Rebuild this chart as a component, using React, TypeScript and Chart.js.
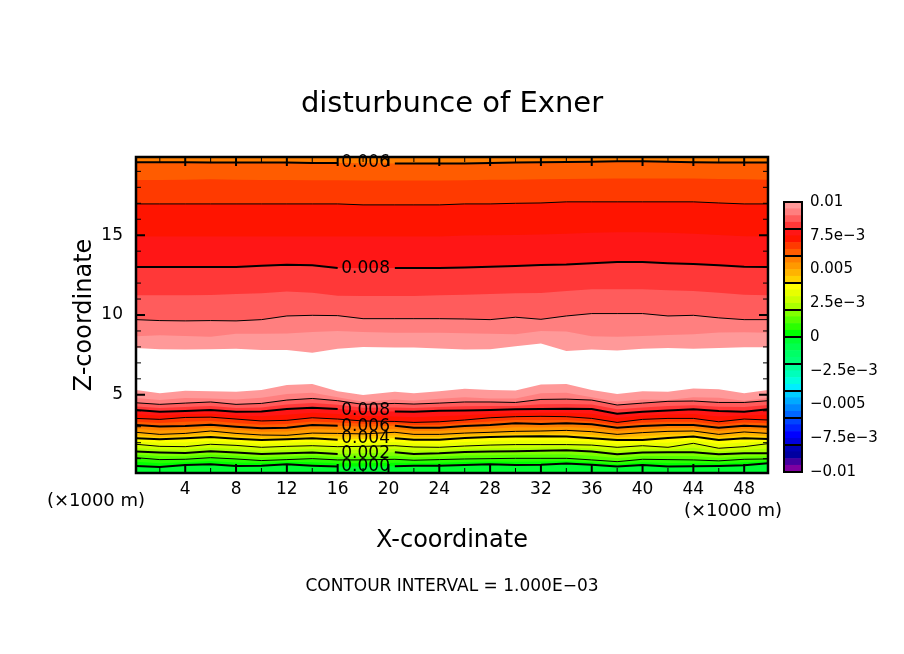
import { useEffect, useRef } from "react"
import { Chart, registerables } from "chart.js"

Chart.register(...registerables)

const FONT = "'DejaVu Sans'"

const stations = [0.125, 2, 4, 6, 8, 10, 12, 14, 16, 18, 20.5, 22, 24, 26, 28, 30, 32, 34, 36, 38, 40, 42, 44, 46, 48, 49.875]

// upper stack, above the white hole
const up0060 = [19.57, 19.57, 19.57, 19.55, 19.55, 19.55, 19.55, 19.52, 19.52, 19.52, 19.5, 19.5, 19.5, 19.5, 19.52, 19.55, 19.57, 19.59, 19.61, 19.63, 19.63, 19.61, 19.57, 19.55, 19.55, 19.55]
const up0065 = [18.46, 18.46, 18.48, 18.5, 18.48, 18.46, 18.46, 18.44, 18.44, 18.42, 18.42, 18.42, 18.42, 18.44, 18.48, 18.48, 18.5, 18.52, 18.54, 18.56, 18.56, 18.56, 18.56, 18.52, 18.5, 18.48]
const up0070 = [16.96, 16.96, 16.96, 16.96, 16.96, 16.96, 16.96, 16.96, 16.96, 16.9, 16.9, 16.9, 16.9, 16.96, 16.96, 17.0, 17.02, 17.09, 17.09, 17.09, 17.09, 17.09, 17.09, 17.02, 16.96, 16.96]
const up0075 = [14.92, 14.92, 14.92, 14.92, 14.92, 14.92, 14.92, 14.92, 14.92, 14.92, 14.92, 14.92, 14.92, 14.98, 15.0, 15.02, 15.05, 15.09, 15.15, 15.19, 15.19, 15.15, 15.09, 15.02, 14.94, 14.92]
const up0080 = [13.0, 13.0, 13.0, 13.0, 13.0, 13.09, 13.15, 13.11, 12.94, 12.94, 12.94, 12.94, 12.94, 12.98, 13.02, 13.07, 13.13, 13.17, 13.25, 13.32, 13.32, 13.25, 13.19, 13.11, 13.02, 13.0]
const up0085 = [11.23, 11.23, 11.23, 11.25, 11.32, 11.36, 11.48, 11.4, 11.21, 11.19, 11.19, 11.19, 11.23, 11.27, 11.32, 11.36, 11.38, 11.5, 11.61, 11.61, 11.61, 11.55, 11.5, 11.4, 11.27, 11.23]
const up0090 = [9.71, 9.65, 9.63, 9.65, 9.63, 9.71, 9.94, 9.98, 9.96, 9.77, 9.77, 9.77, 9.77, 9.75, 9.71, 9.86, 9.73, 9.94, 10.09, 10.09, 10.09, 9.94, 9.98, 9.82, 9.71, 9.71]
const up0095 = [8.67, 8.73, 8.69, 8.63, 8.82, 8.82, 8.84, 8.94, 9.0, 8.94, 8.88, 8.88, 8.88, 8.86, 8.82, 8.8, 9.0, 8.96, 8.67, 8.63, 8.69, 8.75, 8.8, 8.9, 8.92, 8.88]
const up0100 = [7.94, 7.86, 7.84, 7.86, 7.88, 7.8, 7.8, 7.63, 7.88, 8.0, 7.96, 7.96, 7.9, 7.84, 7.86, 8.04, 8.21, 7.75, 7.84, 7.77, 7.88, 7.94, 7.88, 7.94, 7.98, 7.98]

// lower stack, below the white hole
const lo0100 = [5.3, 5.09, 5.25, 5.23, 5.19, 5.3, 5.61, 5.67, 5.23, 4.98, 5.19, 5.09, 5.23, 5.38, 5.3, 5.27, 5.65, 5.67, 5.3, 5.05, 5.23, 5.19, 5.4, 5.34, 5.09, 5.3]
const lo0095 = [4.8, 4.67, 4.8, 4.77, 4.71, 4.82, 5.05, 5.13, 4.84, 4.57, 4.71, 4.63, 4.75, 4.84, 4.77, 4.77, 5.09, 5.13, 4.84, 4.57, 4.71, 4.67, 4.84, 4.82, 4.63, 4.8]
const lo0090 = [4.5, 4.4, 4.48, 4.55, 4.4, 4.46, 4.67, 4.77, 4.63, 4.4, 4.46, 4.42, 4.48, 4.55, 4.55, 4.52, 4.71, 4.73, 4.67, 4.36, 4.48, 4.59, 4.61, 4.52, 4.52, 4.63]
const lo0085 = [4.27, 4.17, 4.23, 4.3, 4.17, 4.21, 4.39, 4.48, 4.37, 4.19, 4.21, 4.18, 4.24, 4.29, 4.3, 4.3, 4.41, 4.43, 4.39, 4.09, 4.21, 4.3, 4.35, 4.25, 4.23, 4.36]
const lo0080 = [4.05, 3.94, 3.98, 4.05, 3.94, 3.96, 4.11, 4.19, 4.11, 3.98, 3.96, 3.94, 4.0, 4.02, 4.05, 4.09, 4.11, 4.13, 4.11, 3.82, 3.94, 4.02, 4.09, 3.98, 3.94, 4.09]
const lo0075 = [3.78, 3.7, 3.78, 3.82, 3.71, 3.66, 3.75, 3.87, 3.79, 3.67, 3.64, 3.6, 3.65, 3.72, 3.8, 3.86, 3.88, 3.88, 3.81, 3.54, 3.7, 3.77, 3.8, 3.64, 3.71, 3.75]
const lo0070 = [3.52, 3.46, 3.58, 3.6, 3.48, 3.36, 3.4, 3.56, 3.48, 3.36, 3.33, 3.27, 3.31, 3.42, 3.56, 3.63, 3.65, 3.63, 3.52, 3.27, 3.46, 3.52, 3.52, 3.31, 3.48, 3.42]
const lo0065 = [3.31, 3.24, 3.31, 3.36, 3.24, 3.13, 3.17, 3.33, 3.27, 3.18, 3.2, 3.1, 3.12, 3.23, 3.33, 3.42, 3.41, 3.42, 3.33, 3.1, 3.25, 3.31, 3.31, 3.12, 3.27, 3.21]
const lo0060 = [3.1, 3.02, 3.04, 3.13, 3.0, 2.9, 2.94, 3.1, 3.06, 3.0, 3.06, 2.94, 2.94, 3.04, 3.1, 3.21, 3.17, 3.21, 3.15, 2.94, 3.04, 3.1, 3.1, 2.94, 3.06, 3.0]
const lo0055 = [2.87, 2.77, 2.81, 2.93, 2.79, 2.69, 2.7, 2.85, 2.82, 2.77, 2.85, 2.73, 2.73, 2.82, 2.87, 2.96, 2.95, 2.99, 2.92, 2.73, 2.83, 2.9, 2.91, 2.73, 2.86, 2.79]
const lo0050 = [2.65, 2.52, 2.58, 2.73, 2.58, 2.48, 2.46, 2.6, 2.58, 2.55, 2.65, 2.52, 2.52, 2.6, 2.65, 2.71, 2.73, 2.77, 2.69, 2.52, 2.63, 2.71, 2.73, 2.52, 2.67, 2.58]
const lo0045 = [2.46, 2.36, 2.42, 2.54, 2.41, 2.32, 2.33, 2.43, 2.38, 2.39, 2.46, 2.35, 2.35, 2.44, 2.5, 2.54, 2.56, 2.57, 2.48, 2.34, 2.4, 2.5, 2.55, 2.34, 2.47, 2.4]
const lo0040 = [2.27, 2.21, 2.27, 2.35, 2.25, 2.17, 2.21, 2.27, 2.19, 2.23, 2.27, 2.19, 2.19, 2.29, 2.35, 2.38, 2.4, 2.38, 2.27, 2.17, 2.17, 2.29, 2.38, 2.17, 2.27, 2.23]
const lo0035 = [2.08, 1.99, 2.01, 2.12, 2.04, 1.94, 1.99, 2.04, 1.97, 2.0, 2.04, 1.96, 1.95, 2.04, 2.1, 2.13, 2.14, 2.13, 2.06, 1.94, 1.99, 2.0, 2.17, 1.91, 2.01, 2.08]
const lo0030 = [1.9, 1.77, 1.75, 1.9, 1.83, 1.71, 1.77, 1.81, 1.75, 1.77, 1.81, 1.73, 1.71, 1.79, 1.85, 1.88, 1.88, 1.88, 1.85, 1.71, 1.81, 1.71, 1.96, 1.65, 1.75, 1.94]
const lo0025 = [1.67, 1.57, 1.55, 1.68, 1.6, 1.5, 1.55, 1.6, 1.52, 1.55, 1.6, 1.51, 1.52, 1.6, 1.64, 1.67, 1.69, 1.7, 1.64, 1.49, 1.59, 1.55, 1.68, 1.46, 1.54, 1.63]
const lo0020 = [1.44, 1.38, 1.35, 1.46, 1.38, 1.29, 1.33, 1.38, 1.29, 1.33, 1.4, 1.29, 1.33, 1.42, 1.44, 1.46, 1.5, 1.52, 1.44, 1.27, 1.38, 1.4, 1.4, 1.27, 1.33, 1.33]
const lo0015 = [1.25, 1.16, 1.15, 1.26, 1.18, 1.08, 1.13, 1.19, 1.1, 1.12, 1.18, 1.09, 1.13, 1.2, 1.22, 1.24, 1.26, 1.27, 1.18, 1.04, 1.17, 1.17, 1.16, 1.06, 1.14, 1.15]
const lo0010 = [1.06, 0.94, 0.96, 1.06, 0.98, 0.88, 0.94, 1.0, 0.92, 0.92, 0.96, 0.9, 0.94, 0.98, 1.0, 1.02, 1.02, 1.02, 0.92, 0.81, 0.96, 0.94, 0.92, 0.86, 0.96, 0.98]
const lo0005 = [0.8, 0.71, 0.78, 0.85, 0.76, 0.72, 0.8, 0.78, 0.71, 0.71, 0.74, 0.73, 0.75, 0.79, 0.82, 0.81, 0.82, 0.85, 0.77, 0.65, 0.78, 0.72, 0.72, 0.7, 0.77, 0.84]
const lo0000 = [0.54, 0.48, 0.6, 0.65, 0.54, 0.56, 0.65, 0.56, 0.5, 0.5, 0.52, 0.56, 0.56, 0.6, 0.65, 0.6, 0.62, 0.69, 0.62, 0.5, 0.6, 0.5, 0.52, 0.54, 0.58, 0.71]

const xTicks = [2, 4, 6, 8, 10, 12, 14, 16, 18, 20, 22, 24, 26, 28, 30, 32, 34, 36, 38, 40, 42, 44, 46, 48]
const yTicks = [1, 2, 3, 4, 5, 6, 7, 8, 9, 10, 11, 12, 13, 14, 15, 16, 17, 18, 19]

// colour bar, bottom to top, one colour per 5e-4
const barColors = [
  "#7F00A0", "#4400A0", "#0000A0", "#0000B4",
  "#0000DC", "#0000FF", "#0022FF", "#0044FF",
  "#0066FF", "#0088FF", "#00AAFF", "#00CCFF",
  "#00EEFF", "#00FFDD", "#00FFBB", "#00FF99",
  "#00FF77", "#00FF66", "#00FF4D", "#00FF33",
  "#00FF00", "#2AFF00", "#55FF00", "#80FF00",
  "#AAFF00", "#CCFF00", "#E8FF00", "#FFFF00",
  "#FFD000", "#FFB300", "#FF9900", "#FF7F00",
  "#FF5C00", "#FF3A00", "#FF1400", "#FF1616",
  "#FF3838", "#FF5C5C", "#FF7F7F", "#FF9999",
]
const barStart = -0.01
const barStep = 0.0005
const barSeparators = [-0.008, -0.006, -0.004, -0.002, 0, 0.002, 0.004, 0.006, 0.008]
const barLabelValues = [-0.01, -0.0075, -0.005, -0.0025, 0, 0.0025, 0.005, 0.0075, 0.01]
const barLabels = ["\u22120.01", "\u22127.5e\u22123", "\u22120.005", "\u22122.5e\u22123", "0", "2.5e\u22123", "0.005", "7.5e\u22123", "0.01"]

const colorOf = (level: number) => barColors[Math.round((level - barStart) / barStep)]

// painter's order: the filler goes last dataset first, so the outermost band goes last in the list
const lowerStack = [
  { values: lo0000, band: -0.0005, width: 2 },
  { values: lo0005, band: 0, width: 0 },
  { values: lo0010, band: 0.0005, width: 1 },
  { values: lo0015, band: 0.001, width: 0 },
  { values: lo0020, band: 0.0015, width: 2 },
  { values: lo0025, band: 0.002, width: 0 },
  { values: lo0030, band: 0.0025, width: 1 },
  { values: lo0035, band: 0.003, width: 0 },
  { values: lo0040, band: 0.0035, width: 2 },
  { values: lo0045, band: 0.004, width: 0 },
  { values: lo0050, band: 0.0045, width: 1 },
  { values: lo0055, band: 0.005, width: 0 },
  { values: lo0060, band: 0.0055, width: 2 },
  { values: lo0065, band: 0.006, width: 0 },
  { values: lo0070, band: 0.0065, width: 1 },
  { values: lo0075, band: 0.007, width: 0 },
  { values: lo0080, band: 0.0075, width: 2 },
  { values: lo0085, band: 0.008, width: 0 },
  { values: lo0090, band: 0.0085, width: 1 },
  { values: lo0095, band: 0.009, width: 0 },
  { values: lo0100, band: 0.0095, width: 0 },
]
const upperStack = [
  { values: up0060, band: 0.0055, width: 2 },
  { values: up0065, band: 0.006, width: 0 },
  { values: up0070, band: 0.0065, width: 1 },
  { values: up0075, band: 0.007, width: 0 },
  { values: up0080, band: 0.0075, width: 2 },
  { values: up0085, band: 0.008, width: 0 },
  { values: up0090, band: 0.0085, width: 1 },
  { values: up0095, band: 0.009, width: 0 },
  { values: up0100, band: 0.0095, width: 0 },
]

// line labels sit on their contour at this station, the line is broken around them
const labelStation = stations.indexOf(18)
const contourLabels = [
  { text: "0.006", values: up0060 },
  { text: "0.008", values: up0080 },
  { text: "0.008", values: lo0080 },
  { text: "0.006", values: lo0060 },
  { text: "0.004", values: lo0040 },
  { text: "0.002", values: lo0020 },
  { text: "0.000", values: lo0000 },
]
const labelled = contourLabels.map((l) => l.values)

type Row = { values: number[]; band: number; width: number }

const points = (values: number[]) => values.map((y, i) => ({ x: stations[i], y }))

const fillDataset = (row: Row, fill: string) => ({
  data: points(row.values),
  fill,
  backgroundColor: colorOf(row.band),
  borderWidth: 0,
  pointRadius: 0,
  tension: 0,
})

// contour stroke is its own dataset, a null at the label station breaks the line there
const lineDataset = (row: Row) => ({
  data: labelled.includes(row.values)
    ? points(row.values).map((p, i) => (i === labelStation ? { x: p.x, y: null } : p))
    : points(row.values),
  fill: false,
  borderColor: "#000",
  borderWidth: row.width,
  pointRadius: 0,
  tension: 0,
})

const framePlugin = {
  id: "frame",
  afterDatasetsDraw(chart: any) {
    const { ctx, chartArea: a, scales } = chart
    ctx.save()
    ctx.strokeStyle = "#000"
    ctx.fillStyle = "#000"
    // ticks point inwards on all four sides
    xTicks.forEach((v) => {
      const major = v % 4 === 0
      const px = scales.x.getPixelForValue(v)
      const len = major ? 9 : 5
      ctx.lineWidth = major ? 2 : 1
      ctx.beginPath()
      ctx.moveTo(px, a.top)
      ctx.lineTo(px, a.top + len)
      ctx.moveTo(px, a.bottom)
      ctx.lineTo(px, a.bottom - len)
      ctx.stroke()
    })
    yTicks.forEach((v) => {
      const major = v % 5 === 0
      const py = scales.y.getPixelForValue(v)
      const len = major ? 9 : 5
      ctx.lineWidth = major ? 2 : 1
      ctx.beginPath()
      ctx.moveTo(a.left, py)
      ctx.lineTo(a.left + len, py)
      ctx.moveTo(a.right, py)
      ctx.lineTo(a.right - len, py)
      ctx.stroke()
    })
    ctx.lineWidth = 2.5
    ctx.strokeRect(a.left, a.top, a.right - a.left, a.bottom - a.top)

    ctx.textAlign = "center"
    ctx.textBaseline = "middle"
    ctx.font = `17px ${FONT}`
    contourLabels.forEach((l) => {
      ctx.fillText(l.text, scales.x.getPixelForValue(18.2), scales.y.getPixelForValue(l.values[labelStation]))
    })

    ctx.font = `18px ${FONT}`
    ctx.fillText("(\u00D71000 m)", 96, 501)
    ctx.fillText("(\u00D71000 m)", 733, 511)
    ctx.font = `17px ${FONT}`
    ctx.fillText("CONTOUR INTERVAL = 1.000E\u221203", 452, 587)
    ctx.restore()
  },
}

const barFramePlugin = {
  id: "barFrame",
  afterDraw(chart: any) {
    const { ctx, chartArea: a } = chart
    ctx.save()
    ctx.strokeStyle = "#000"
    ctx.lineWidth = 2
    ctx.strokeRect(a.left, a.top, a.right - a.left, a.bottom - a.top)
    ctx.restore()
  },
}

export default function App() {
  const plotRef = useRef<HTMLCanvasElement>(null)
  const barRef = useRef<HTMLCanvasElement>(null)

  useEffect(() => {
    if (!plotRef.current || !barRef.current) return

    const rows = [...lowerStack, ...upperStack]

    const plot = new Chart(plotRef.current, {
      type: "line",
      data: {
        datasets: [
          ...rows.filter((r) => r.width > 0).map(lineDataset),
          ...lowerStack.map((r) => fillDataset(r, "start")),
          ...upperStack.map((r) => fillDataset(r, "end")),
        ],
      } as any,
      plugins: [framePlugin],
      options: {
        responsive: false,
        animation: false,
        devicePixelRatio: 1,
        plugins: {
          legend: { display: false },
          tooltip: { enabled: false },
          filler: { drawTime: "beforeDatasetsDraw" },
          title: {
            display: true,
            text: "disturbunce of Exner",
            color: "#000",
            font: { family: FONT, size: 29, weight: "normal", lineHeight: 1.2 },
            padding: { top: 86.6, bottom: 35.6 },
          },
        },
        scales: {
          x: {
            type: "linear",
            min: 0.125,
            max: 49.875,
            grid: { display: false, drawTicks: false },
            border: { display: false },
            afterBuildTicks: (s: any) => {
              s.ticks = xTicks.map((value) => ({ value }))
            },
            afterFit: (s: any) => {
              s.height = 181
            },
            ticks: {
              autoSkip: false,
              maxRotation: 0,
              padding: 6,
              color: "#000",
              font: { family: FONT, size: 17 },
              callback: (v: any) => (v % 4 === 0 ? String(v) : ""),
            },
            title: {
              display: true,
              text: "X-coordinate",
              color: "#000",
              font: { family: FONT, size: 24, lineHeight: 1.2 },
              padding: { top: 0, bottom: 99 },
            },
          },
          y: {
            type: "linear",
            min: 0.1,
            max: 19.9,
            grid: { display: false, drawTicks: false },
            border: { display: false },
            afterBuildTicks: (s: any) => {
              s.ticks = yTicks.map((value) => ({ value }))
            },
            afterFit: (s: any) => {
              s.width = 136
            },
            ticks: {
              autoSkip: false,
              padding: 13,
              color: "#000",
              font: { family: FONT, size: 17 },
              callback: (v: any) => (v % 5 === 0 ? String(v) : ""),
            },
            title: {
              display: true,
              text: "Z-coordinate",
              color: "#000",
              font: { family: FONT, size: 24, lineHeight: 1.2 },
              padding: { top: 70, bottom: 0 },
            },
          },
          // empty axis, only keeps the right margin so the title centres on the page
          margin: {
            type: "linear",
            position: "right",
            grid: { display: false, drawTicks: false },
            border: { display: false },
            ticks: { display: false },
            afterFit: (s: any) => {
              s.width = 136
            },
          },
        },
      },
    } as any)

    const bar = new Chart(barRef.current, {
      type: "bar",
      data: {
        labels: [""],
        datasets: barColors.map((color, i) => ({
          data: [[barStart + i * barStep, barStart + (i + 1) * barStep]],
          backgroundColor: color,
          borderWidth: 0,
          barPercentage: 1,
          categoryPercentage: 1,
          grouped: false,
        })),
      } as any,
      plugins: [barFramePlugin],
      options: {
        responsive: false,
        animation: false,
        devicePixelRatio: 1,
        layout: { padding: { left: 14, top: 12, bottom: 13 } },
        plugins: { legend: { display: false }, tooltip: { enabled: false } },
        scales: {
          x: { display: false },
          y: {
            position: "right",
            min: barStart,
            max: 0.01,
            border: { display: false },
            afterBuildTicks: (s: any) => {
              s.ticks = [...new Set([...barSeparators, ...barLabelValues])].sort((a, b) => a - b).map((value) => ({ value }))
            },
            afterFit: (s: any) => {
              s.width = 93
              s.paddingTop = 0
              s.paddingBottom = 0
            },
            grid: {
              z: 1,
              drawTicks: false,
              lineWidth: 2,
              color: (ctx: any) => (barSeparators.includes(ctx.tick?.value) ? "#000" : "transparent"),
            },
            ticks: {
              autoSkip: false,
              padding: 8,
              color: "#000",
              font: { family: FONT, size: 15 },
              callback: (v: any) => {
                const i = barLabelValues.indexOf(v)
                return i < 0 ? "" : barLabels[i]
              },
            },
          },
        },
      },
    } as any)

    return () => {
      plot.destroy()
      bar.destroy()
    }
  }, [])

  return (
    <div style={{ position: "absolute", left: 0, top: 0, width: 904, height: 654 }}>
      <canvas ref={plotRef} width={904} height={654} style={{ position: "absolute", left: 0, top: 0 }} />
      <canvas ref={barRef} width={125} height={295} style={{ position: "absolute", left: 770, top: 190 }} />
    </div>
  )
}
